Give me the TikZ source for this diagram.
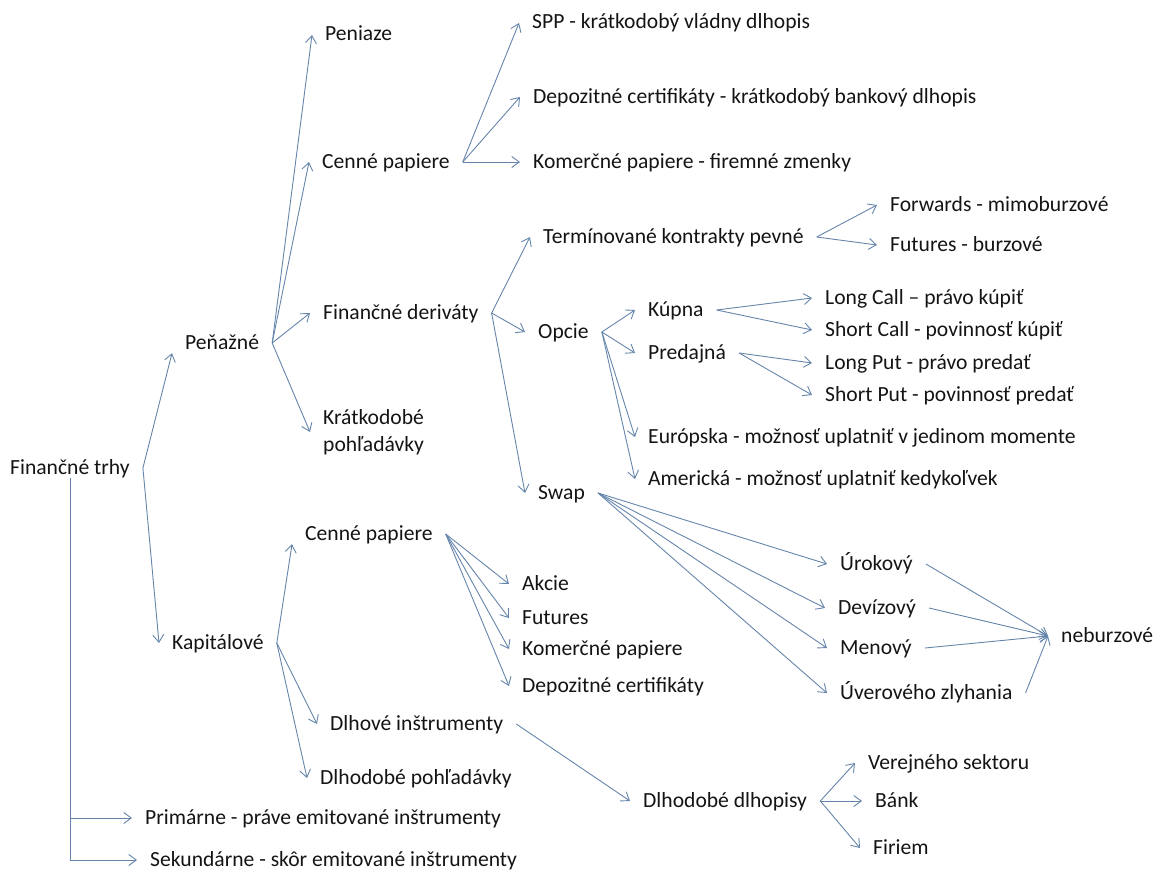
\documentclass[tikz,border=0pt]{standalone}
\usepackage{fontspec}
\setmainfont{Carlito}
\usepackage{xcolor}
\usepackage{tikz}
\usetikzlibrary{arrows.meta,positioning}
\definecolor{fline}{HTML}{6585AA}
\definecolor{ftext}{HTML}{141414}
\tikzset{
  >={Straight Barb[length=7.5pt,width=11pt]},
  fitem/.style={anchor=west, inner xsep=13pt, inner ysep=0pt, text=ftext,
                font=\fontsize{21.6}{27}\selectfont,
                text height=16pt, text depth=4pt},
  fmulti/.style={anchor=west, inner xsep=13pt, inner ysep=0pt, text=ftext,
                 font=\fontsize{21.6}{27}\selectfont, align=left},
  flink/.style={->, fline, line width=0.9pt},
  fbar/.style={fline, line width=0.9pt},
}
\begin{document}
\begin{tikzpicture}[x=1pt,y=-1pt]
  \useasboundingbox (0,0) rectangle (1158,872);

  \node[fitem] (ft)   at (-3,468)  {Finančné trhy};
  \node[fitem] (pen)  at (172,343) {Peňažné};
  \node[fitem] (kap)  at (159,643) {Kapitálové};

  % peňažné trhy
  \node[fitem]  (pz)  at (312,35)  {Peniaze};
  \node[fitem]  (cpa) at (309,162) {Cenné papiere};
  \node[fitem]  (fd)  at (310,313) {Finančné deriváty};
  \node[fmulti] (kr)  at (310,432) {Krátkodobé\\pohľadávky};

  \node[fitem] (spp) at (519,23)  {SPP - krátkodobý vládny dlhopis};
  \node[fitem] (dep) at (520,97)  {Depozitné certifikáty - krátkodobý bankový dlhopis};
  \node[fitem] (kom) at (520,162) {Komerčné papiere - firemné zmenky};

  % deriváty
  \node[fitem] (term) at (530,237) {Termínované kontrakty pevné};
  \node[fitem] (opc)  at (525,332) {Opcie};
  \node[fitem] (swap) at (525,493) {Swap};
  \node[fitem] (fwd)  at (877,205) {Forwards - mimoburzové};
  \node[fitem] (fut)  at (877,245) {Futures - burzové};
  \node[fitem] (kup)  at (635,310) {Kúpna};
  \node[fitem] (pred) at (635,353) {Predajná};
  \node[fitem] (eur)  at (635,437) {Európska - možnosť uplatniť v jedinom momente};
  \node[fitem] (ame)  at (635,479) {Americká - možnosť uplatniť kedykoľvek};
  \node[fitem] (lc)   at (812,298) {Long Call – právo kúpiť};
  \node[fitem] (sc)   at (812,330) {Short Call - povinnosť kúpiť};
  \node[fitem] (lp)   at (812,363) {Long Put - právo predať};
  \node[fitem] (sp)   at (812,395) {Short Put - povinnosť predať};

  % swapy
  \node[fitem] (uro) at (827,564)  {Úrokový};
  \node[fitem] (dev) at (825,608)  {Devízový};
  \node[fitem] (men) at (827,648)  {Menový};
  \node[fitem] (uve) at (827,693)  {Úverového zlyhania};
  \node[fitem] (neb) at (1048,636) {neburzové};

  % kapitálové trhy
  \node[fitem] (cpb)  at (292,534) {Cenné papiere};
  \node[fitem] (akc)  at (509,584) {Akcie};
  \node[fitem] (futb) at (509,618) {Futures};
  \node[fitem] (komb) at (509,649) {Komerčné papiere};
  \node[fitem] (depb) at (509,686) {Depozitné certifikáty};
  \node[fitem] (dlh)  at (317,724) {Dlhové inštrumenty};
  \node[fitem] (dpo)  at (307,778) {Dlhodobé pohľadávky};
  \node[fitem] (ddl)  at (630,801) {Dlhodobé dlhopisy};
  \node[fitem] (ver)  at (855,763) {Verejného sektoru};
  \node[fitem] (bank) at (862,801) {Bánk};
  \node[fitem] (fir)  at (860,848) {Firiem};

  \node[fitem] (pri) at (132,818) {Primárne - práve emitované inštrumenty};
  \node[fitem] (sek) at (137,860) {Sekundárne - skôr emitované inštrumenty};

  % šípky
  \draw[flink] (ft.east) -- (pen.south west);
  \draw[flink] (ft.east) -- (kap.west);
  \draw[fbar]  (ft.south) -- (ft.south |- sek.west);
  \draw[flink] (ft.south |- pri.west) -- (pri.west);
  \draw[flink] (ft.south |- sek.west) -- (sek.west);

  \foreach \t in {pz,cpa,fd,kr} \draw[flink] (pen.east) -- (\t.west);
  \foreach \t in {spp,dep,kom} \draw[flink] (cpa.east) -- (\t.west);
  \foreach \t in {term,opc,swap} \draw[flink] (fd.east) -- (\t.west);
  \foreach \t in {fwd,fut} \draw[flink] (term.east) -- (\t.west);
  \foreach \t in {kup,pred,eur,ame} \draw[flink] (opc.east) -- (\t.west);
  \foreach \t in {lc,sc} \draw[flink] (kup.east) -- (\t.west);
  \foreach \t in {lp,sp} \draw[flink] (pred.east) -- (\t.west);
  \foreach \t in {uro,dev,men,uve} {
    \draw[flink] (swap.east) -- (\t.west);
    \draw[flink] (\t.east) -- (neb.west);
  }

  \draw[flink] (kap.east) -- (cpb.south west);
  \draw[flink] (kap.east) -- (dlh.west);
  \draw[flink] (kap.east) -- (dpo.west);
  \foreach \t in {akc,futb,komb,depb} \draw[flink] (cpb.east) -- (\t.west);
  \draw[flink] (dlh.east) -- (ddl.west);
  \foreach \t in {ver,bank,fir} \draw[flink] (ddl.east) -- (\t.west);

\end{tikzpicture}
\end{document}
